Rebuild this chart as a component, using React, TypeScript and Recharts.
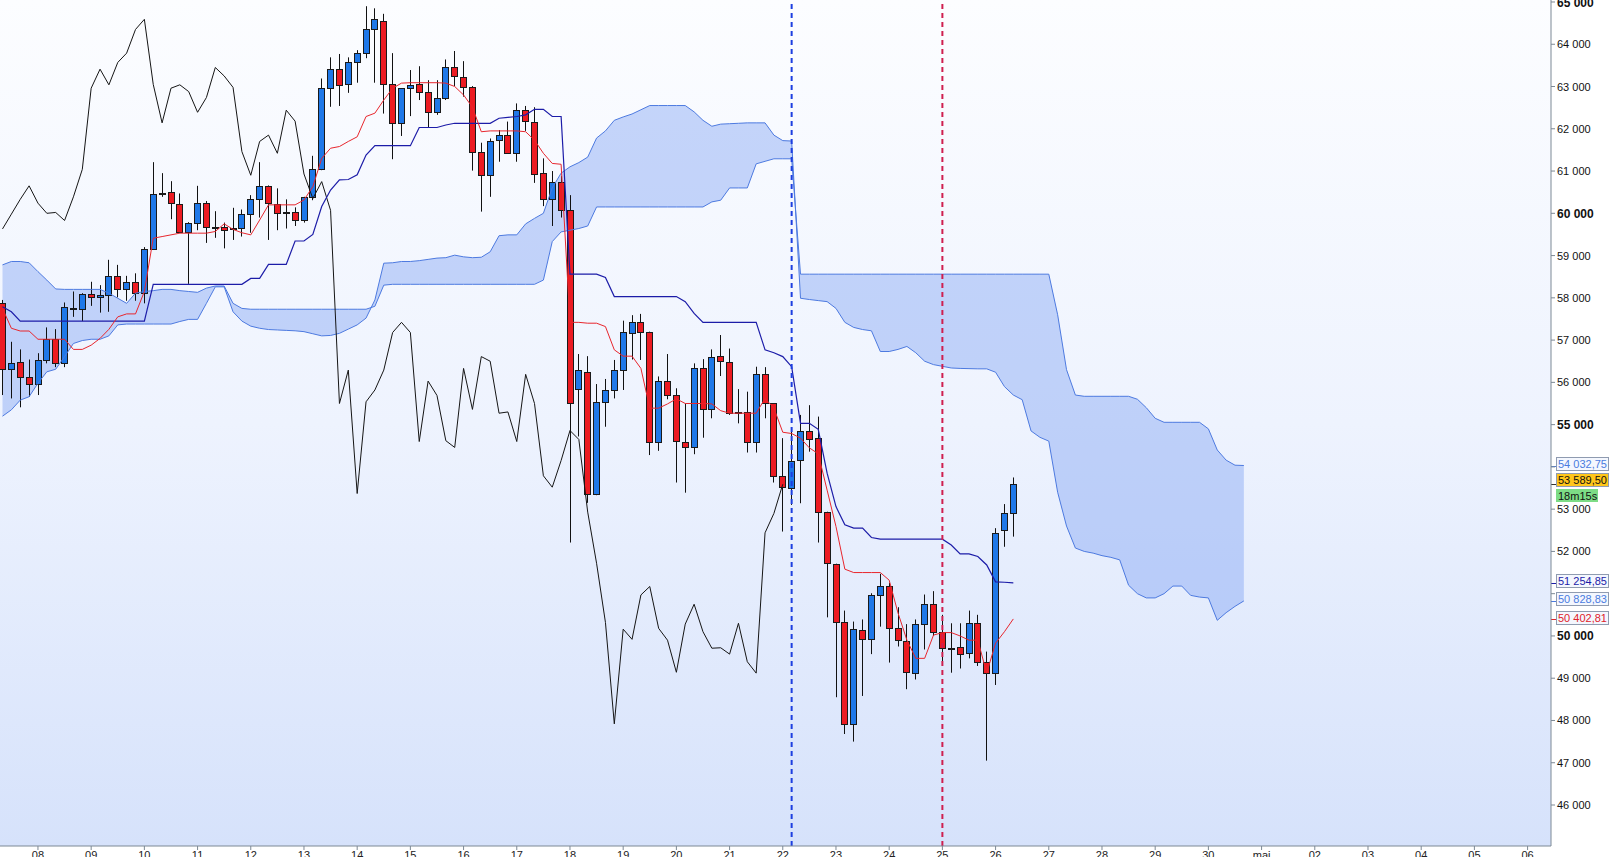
import React from 'react'
import { ComposedChart, Area, Bar, Line, XAxis, YAxis, ReferenceLine } from 'recharts'

// 4h candles, first one = 7 avril 08:00
const dayLabels = ['08', '09', '10', '11', '12', '13', '14', '15', '16', '17', '18', '19', '20', '21', '22', '23', '24', '25', '26', '27', '28', '29', '30', 'mai', '02', '03', '04', '05', '06']

const opens = [
  57870, 56310, 56470, 56120, 55950, 56540, 57020, 56450, 57740, 57740,
  58080, 58010, 58070, 58520, 58200, 58370, 58110, 59150, 60490, 60500,
  60210, 59550, 59780, 60240, 59670, 59670, 59660, 59660, 59980, 60330,
  60650, 60220, 60010, 60020, 59830, 60390, 61040, 62960, 63410, 63050,
  63570, 63790, 64350, 64560, 63050, 62130, 62970, 63070, 62880, 62390,
  62740, 63450, 63230, 62980, 61460, 60900, 61730, 61850, 61420, 62440,
  62170, 60950, 60350, 60750, 60070, 55840, 56250, 53370, 55540, 55820,
  56290, 57160, 57420, 57180, 54600, 56030, 55690, 54600, 54460, 56330,
  55360, 56630, 56490, 55270, 55310, 54600, 56190, 55500, 53790, 53490,
  54160, 54860, 54680, 52930, 51700, 50320, 47920, 50140, 49920, 50970,
  51170, 50180, 49880, 49120, 50280, 50750, 50100, 49710, 49730, 49590,
  50300, 49390, 49120, 52500, 52900,
]
const highs = [
  57950, 56960, 56780, 56540, 56690, 57300, 57260, 57890, 58150, 58110,
  58380, 58300, 58900, 58780, 58520, 58580, 59200, 61210, 60950, 60760,
  60470, 59790, 60650, 60290, 60050, 59780, 60130, 60090, 60430, 61210,
  60660, 60590, 60330, 60140, 60390, 61360, 63190, 63690, 63770, 63690,
  63860, 64900, 64850, 64720, 63790, 62960, 63390, 63480, 63150, 63150,
  63640, 63840, 63600, 63010, 61670, 61770, 61970, 62170, 62600, 62540,
  62510, 61300, 61000, 60880, 60430, 56670, 56620, 55960, 56080, 56530,
  57460, 57590, 57620, 57200, 56140, 56670, 55860, 55500, 56450, 56550,
  56780, 57120, 56800, 55840, 55780, 56370, 56360, 55510, 54680, 54870,
  55230, 55460, 55190, 52940, 51710, 50600, 50340, 50390, 51010, 51470,
  51260, 50680, 50280, 50390, 50980, 51060, 50500, 50300, 50300, 50600,
  50500, 49630, 52550, 53120, 53750,
]
const lows = [
  55700, 55620, 55410, 55660, 55700, 56450, 56360, 56360, 57550, 57450,
  57810, 57650, 57670, 58010, 57930, 57930, 57870, 59140, 60390, 59860,
  59530, 58330, 59600, 59300, 59420, 59170, 59370, 59450, 59540, 59900,
  59370, 59600, 59640, 59700, 59780, 60310, 61020, 62520, 62540, 62850,
  63090, 63670, 63090, 62360, 61280, 61830, 62300, 62680, 62030, 62330,
  62680, 63010, 62760, 61010, 60040, 60390, 61220, 61420, 61220, 61950,
  60720, 60170, 59700, 59900, 52210, 54720, 53150, 53330, 54950, 55620,
  55820, 56540, 56530, 54280, 54380, 55600, 53630, 53390, 54300, 54690,
  55150, 56150, 55230, 55030, 54340, 54340, 55150, 53630, 52470, 53100,
  53140, 54360, 52210, 50440, 48550, 47680, 47500, 48580, 49570, 50220,
  49370, 49750, 48740, 48970, 49680, 50000, 49400, 49130, 49230, 49470,
  49290, 47050, 48840, 52110, 52350,
]
const closes = [
  56310, 56450, 56120, 55950, 56540, 57030, 56450, 57780, 57750, 58080,
  58010, 58070, 58520, 58200, 58370, 58110, 59150, 60450, 60480, 60240,
  59550, 59780, 60240, 59670, 59660, 59600, 59630, 59980, 60330, 60650,
  60240, 60000, 60020, 59830, 60390, 61040, 62960, 63410, 63040, 63570,
  63790, 64350, 64590, 63050, 62140, 62960, 63040, 62880, 62390, 62740,
  63450, 63250, 62980, 61460, 60900, 61700, 61850, 61420, 62440, 62180,
  60930, 60350, 60750, 60070, 55500, 56290, 53370, 55540, 55820, 56290,
  57180, 57420, 57180, 54600, 56030, 55690, 54620, 54460, 56330, 55360,
  56610, 56500, 55270, 55300, 54600, 56190, 55500, 53790, 53520, 54150,
  54860, 54650, 52930, 51720, 50320, 47920, 50160, 49920, 50970, 51170,
  50180, 49900, 49140, 50280, 50750, 50100, 49710, 49720, 49570, 50300,
  49390, 49120, 52440, 52900, 53589.5,
]

const tenkan = [
  57750, 57280, 57215, 57215, 57020, 57020, 57020, 57020, 56780, 56780,
  56880, 57040, 57255, 57550, 57620, 57620, 58150, 59410, 59450, 59490,
  59530, 59530, 59530, 59530, 59570, 59750, 59620, 59540, 59490, 59840,
  60200, 60200, 60200, 60200, 60315, 60630, 61300, 61540, 61580, 61700,
  61810, 62290, 62370, 62680, 62960, 63080, 63090, 63090, 63090, 63090,
  63080, 63000, 62800, 62510, 61930, 61950, 61950, 61950, 61950, 61930,
  61730, 61420, 61180, 61160, 57420, 57420, 57400, 57400, 57320, 56770,
  56620, 56620, 56330, 55390, 55390, 55490, 55610, 55500, 55500, 55500,
  55490, 55330, 55270, 55270, 55270, 55270, 55620, 55390, 54820, 54790,
  54680, 54450, 54310, 53450, 52590, 51580, 51500, 51500, 51500, 51500,
  51320, 50540, 49900, 49470, 49470, 50020, 50080, 50080, 50000, 49900,
  49900, 49120, 49830, 50100, 50402.81,
]
const kijun = [
  57790, 57670, 57450, 57450, 57450, 57450, 57450, 57450, 57450, 57450,
  57450, 57450, 57450, 57450, 57450, 57450, 57450, 58320, 58320, 58320,
  58320, 58320, 58320, 58320, 58320, 58320, 58320, 58320, 58460, 58460,
  58790, 58790, 58790, 59345, 59345, 59500, 60160, 60550, 60790, 60800,
  60910, 61380, 61600, 61600, 61600, 61600, 61600, 62030, 62030, 62030,
  62090, 62130, 62130, 62130, 62130, 62130, 62250, 62270, 62290, 62330,
  62460, 62460, 62290, 62290, 58560, 58560, 58560, 58560, 58480, 58030,
  58030, 58030, 58030, 58030, 58030, 58030, 58030, 57910, 57630, 57420,
  57420, 57420, 57420, 57420, 57420, 57420, 56770, 56700, 56610, 56370,
  55030, 55030, 54890, 53850, 53060, 52630, 52550, 52550, 52330, 52290,
  52290, 52290, 52290, 52290, 52290, 52290, 52290, 52150, 51940, 51940,
  51880, 51680, 51280, 51270, 51254.85,
]
// cloud, already shifted 26 candles forward (141 points)
const senkouA = [
  55200, 55350, 55580, 55660, 55980, 56250, 56310, 56610, 56920, 56990,
  57020, 57020, 57100, 57360, 57380, 57380, 57380, 57380, 57380, 57380,
  57440, 57490, 57490, 57870, 58260, 58260, 57670, 57450, 57330, 57280,
  57250, 57240, 57230, 57220, 57200, 57150, 57100, 57110, 57160, 57260,
  57360, 57520, 57950, 58820, 58830, 58860, 58860, 58880, 58910, 58940,
  58950, 59010, 58970, 58950, 58960, 59090, 59470, 59490, 59490, 59750,
  59880, 60000, 60600, 60950, 61100, 61200, 61330, 61780, 61950, 62200,
  62280, 62350, 62450, 62550, 62550, 62550, 62550, 62550, 62400, 62200,
  62060, 62110, 62120, 62130, 62140, 62140, 62140, 61850, 61720, 61710,
  57990, 57960, 57935, 57910, 57750, 57420, 57300, 57250, 57220, 56730,
  56730, 56780, 56850, 56700, 56500, 56420, 56380, 56340, 56330, 56325,
  56320, 56320, 56240, 55900, 55700, 55590, 54850, 54700, 54610, 53400,
  52600, 52080, 52000, 51960, 51900, 51860, 51800, 51200, 51000, 50900,
  50900, 51000, 51180, 51180, 50960, 50920, 50900, 50370, 50550, 50700,
  50828.83,
]
const senkouB = [
  58780, 58860, 58860, 58830, 58620, 58420, 58210, 58200, 58200, 58200,
  58200, 58200, 58110, 57990, 57870, 58110, 58150, 58170, 58200, 58200,
  58170, 58150, 58130, 58230, 58280, 58280, 57870, 57750, 57730, 57730,
  57730, 57730, 57730, 57730, 57730, 57730, 57730, 57730, 57730, 57730,
  57730, 57730, 57800, 58300, 58320, 58320, 58320, 58320, 58320, 58320,
  58320, 58320, 58320, 58320, 58320, 58320, 58320, 58320, 58320, 58320,
  58320, 58420, 59330, 59560, 59600, 59640, 59700, 60150, 60150, 60150,
  60150, 60150, 60150, 60150, 60150, 60150, 60150, 60150, 60150, 60150,
  60270, 60310, 60600, 60600, 60600, 61170, 61230, 61290, 61290, 61290,
  58560, 58560, 58560, 58560, 58560, 58560, 58560, 58560, 58560, 58560,
  58560, 58560, 58560, 58560, 58560, 58560, 58560, 58560, 58560, 58560,
  58560, 58560, 58560, 58560, 58560, 58560, 58560, 58560, 58560, 57600,
  56300, 55700, 55670, 55670, 55670, 55670, 55670, 55670, 55600, 55400,
  55150, 55055, 55055, 55055, 55055, 55055, 54900, 54400, 54160, 54040,
  54032.75,
]

const CHIKOU_SHIFT = 26
const markerBlue = 89
const markerRed = 106
const priceTicks = [46000, 47000, 48000, 49000, 50000, 51000, 52000, 53000, 54000, 55000, 56000, 57000, 58000, 59000, 60000, 61000, 62000, 63000, 64000, 65000]
const tagValues = [54032.75, 53589.5, 51254.85, 50828.83, 50402.81]
const countdown = '18m15s'

const rows = senkouA.map((a, i) => ({
  i,
  o: opens[i],
  h: highs[i],
  l: lows[i],
  c: closes[i],
  tenkan: tenkan[i],
  kijun: kijun[i],
  chikou: closes[i + CHIKOU_SHIFT],
  spanA: a,
  spanB: senkouB[i],
}))

const dayTicks = dayLabels.map((_, k) => 4 + 6 * k)
const FONT = '"Liberation Sans", Arial, sans-serif'
const AXIS = '#7d8995'

const thousands = (n: number) => {
  const s = String(Math.round(n))
  return s.slice(0, -3) + ' ' + s.slice(-3)
}
const fmtPrice = (v: number) => {
  const [int, dec] = v.toFixed(2).split('.')
  return thousands(Number(int)) + ',' + dec
}

function Candle(props: any) {
  const { x, y, width, height, payload } = props
  if (payload == null || payload.o == null || height == null) return null
  const { o, h, l, c } = payload
  const top = Math.min(y, y + height)
  const span = Math.abs(height)
  const cx = Math.round(x + width / 2)
  const py = (v: number) => top + ((h - v) / (h - l)) * span
  const bTop = Math.round(py(Math.max(o, c)))
  const bBot = Math.round(py(Math.min(o, c)))
  const up = c >= o
  return (
    <g>
      <line x1={cx + 0.5} x2={cx + 0.5} y1={top} y2={top + span} stroke="#111" strokeWidth={1} />
      <rect
        x={cx - 2.5}
        y={bTop + 0.5}
        width={6}
        height={Math.max(bBot - bTop, 1)}
        fill={up ? '#1f78e8' : '#ec1b22'}
        stroke="#1a1a1a"
        strokeWidth={1}
      />
    </g>
  )
}

// the price tags on the axis sit on top of these labels in the original
const hiddenByTag = (v: number) => tagValues.some((t) => Math.abs(t - v) < 300)

function PriceTick(props: any) {
  const { x, y, payload } = props
  const v = payload.value as number
  if (hiddenByTag(v)) return null
  const bold = v % 5000 === 0
  return (
    <text x={x} y={y} dy={bold ? 4.5 : 4} textAnchor="start" fontFamily={FONT} fontSize={bold ? 12 : 11} fontWeight={bold ? 700 : 400} fill="#111">
      {thousands(v)}
    </text>
  )
}

function DayTick(props: any) {
  const { x, y, payload } = props
  const k = dayTicks.indexOf(payload.value)
  return (
    <text x={x} y={y} dy={8} textAnchor="middle" fontFamily={FONT} fontSize={11} fill="#222">
      {dayLabels[k]}
    </text>
  )
}

function Tag(props: any) {
  const { viewBox, text, color, bg, lift, timer } = props
  const ax = viewBox.x + viewBox.width
  const vy = Math.round(viewBox.y)
  const cy = vy - lift
  return (
    <g>
      <line x1={ax} x2={ax + 5} y1={vy + 0.5} y2={vy + 0.5} stroke={color === '#111' ? '#333' : color} />
      <rect x={ax + 5.5} y={cy - 6.5} width={52} height={13} fill={bg} stroke="#8f9bb0" />
      <text x={ax + 7} y={cy + 4} fontFamily={FONT} fontSize={11} fill={color}>{text}</text>
      {timer ? (
        <g>
          <rect x={ax + 5.5} y={cy + 9.5} width={41} height={12} fill="#7ddc86" stroke="#7ddc86" />
          <text x={ax + 7} y={cy + 19.5} fontFamily={FONT} fontSize={11} fill="#111">{timer}</text>
        </g>
      ) : null}
    </g>
  )
}

const tagStyles = [
  { color: '#4a7be0', bg: '#f4f7fe', lift: 2 },
  { color: '#111', bg: '#ffc61a', lift: 4 },
  { color: '#1c1ca8', bg: '#f4f7fe', lift: 2 },
  { color: '#4a7be0', bg: '#f4f7fe', lift: 2 },
  { color: '#e0222a', bg: '#f4f7fe', lift: 1 },
]

export default function App() {
  return (
    <div style={{ position: 'fixed', left: 0, top: 0, width: 1609, height: 857, overflow: 'hidden', background: '#fff' }}>
      <div
        style={{
          position: 'absolute',
          left: 0,
          top: 0,
          width: 1551,
          height: 846,
          background: 'linear-gradient(#fcfdff, #eef3fe 50%, #d6e2fb)',
        }}
      />
      <div style={{ position: 'absolute', left: 0, top: 0 }}>
        <ComposedChart width={1609} height={857} data={rows} margin={{ top: 0, right: 0, bottom: 0, left: 0 }}>
          <XAxis
            dataKey="i"
            type="number"
            domain={[-0.282, 174.64]}
            allowDataOverflow
            ticks={dayTicks}
            interval={0}
            height={11}
            tickSize={4}
            tickMargin={1}
            stroke={AXIS}
            tick={<DayTick />}
          />
          <YAxis
            orientation="right"
            width={58}
            domain={[45030, 65047]}
            allowDataOverflow
            ticks={priceTicks}
            interval={0}
            tickSize={4}
            tickMargin={2}
            stroke={AXIS}
            tick={<PriceTick />}
          />
          <Area
            dataKey={(d: any) => [d.spanA, d.spanB]}
            type="linear"
            fill="#7c9ff2"
            fillOpacity={0.42}
            stroke="none"
            isAnimationActive={false}
            activeDot={false}
          />
          <Line dataKey="spanA" type="linear" stroke="#4d7ae0" strokeWidth={1} dot={false} activeDot={false} isAnimationActive={false} />
          <Line dataKey="spanB" type="linear" stroke="#4d7ae0" strokeWidth={1} dot={false} activeDot={false} isAnimationActive={false} />
          <Line dataKey="chikou" type="linear" stroke="#151515" strokeWidth={1} dot={false} activeDot={false} isAnimationActive={false} />
          <Bar
            dataKey={(d: any) => (d.o == null ? null : [d.l, d.h])}
            barSize={6}
            shape={<Candle />}
            isAnimationActive={false}
          />
          <Line dataKey="kijun" type="linear" stroke="#1c1ca8" strokeWidth={1.2} dot={false} activeDot={false} isAnimationActive={false} />
          <Line dataKey="tenkan" type="linear" stroke="#e8262d" strokeWidth={1} dot={false} activeDot={false} isAnimationActive={false} />
          <ReferenceLine x={markerBlue} stroke="#1d3fe0" strokeWidth={2} strokeDasharray="5 4" />
          <ReferenceLine x={markerRed} stroke="#cf1f4f" strokeWidth={2} strokeDasharray="5 4" />
          {tagValues.map((v, k) => (
            <ReferenceLine
              key={v}
              y={v}
              stroke="none"
              label={<Tag text={fmtPrice(v)} {...tagStyles[k]} timer={k === 1 ? countdown : undefined} />}
            />
          ))}
        </ComposedChart>
      </div>
    </div>
  )
}
